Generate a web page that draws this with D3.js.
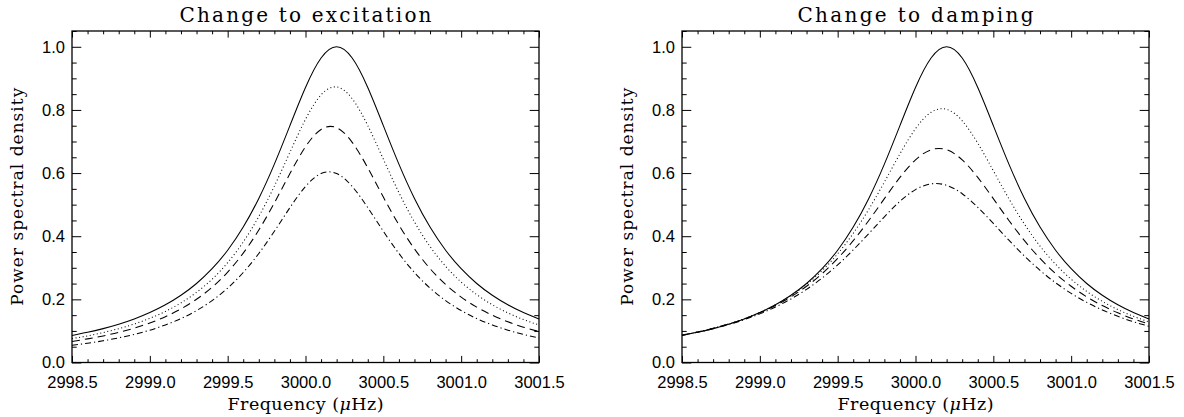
<!DOCTYPE html>
<html><head><meta charset="utf-8">
<script src="https://cdn.jsdelivr.net/npm/d3@7"></script>
<style>body{margin:0;background:#fff}svg{display:block}</style></head>
<body><svg id="c" width="1184" height="417"></svg>
<script>
// ---- data ----
const freqs = [2998.5,2998.6,2998.7,2998.8,2998.9,2999.0,2999.1,2999.2,2999.3,2999.4,2999.5,2999.6,2999.7,2999.8,2999.9,3000.0,3000.1,3000.2,3000.3,3000.4,3000.5,3000.6,3000.7,3000.8,3000.9,3001.0,3001.1,3001.2,3001.3,3001.4,3001.5];

const excSolid   = [0.0856,0.0955,0.1073,0.1212,0.1379,0.1581,0.1827,0.2129,0.2503,0.2970,0.3556,0.4290,0.5196,0.6283,0.7503,0.8711,0.9643,1.0000,0.9643,0.8711,0.7503,0.6283,0.5196,0.4290,0.3556,0.2970,0.2503,0.2129,0.1827,0.1581,0.1379];
const excDotted  = [0.0755,0.0843,0.0948,0.1072,0.1220,0.1400,0.1618,0.1888,0.2222,0.2639,0.3162,0.3817,0.4624,0.5587,0.6659,0.7702,0.8476,0.8727,0.8356,0.7506,0.6441,0.5383,0.4450,0.3674,0.3048,0.2548,0.2149,0.1829,0.1571,0.1361,0.1188];
const excDashed  = [0.0668,0.0748,0.0842,0.0954,0.1089,0.1252,0.1451,0.1697,0.2003,0.2385,0.2865,0.3463,0.4196,0.5056,0.5984,0.6833,0.7382,0.7436,0.6974,0.6167,0.5240,0.4359,0.3599,0.2974,0.2473,0.2072,0.1753,0.1496,0.1288,0.1119,0.0979];
const excDashDot = [0.0546,0.0611,0.0688,0.0780,0.0891,0.1025,0.1190,0.1392,0.1645,0.1961,0.2357,0.2851,0.3454,0.4157,0.4906,0.5576,0.5985,0.5985,0.5576,0.4906,0.4157,0.3454,0.2851,0.2357,0.1961,0.1645,0.1392,0.1190,0.1025,0.0891,0.0780];

const dampSolid   = [0.0856,0.0955,0.1073,0.1212,0.1379,0.1581,0.1827,0.2129,0.2503,0.2970,0.3556,0.4290,0.5196,0.6283,0.7503,0.8711,0.9643,1.0000,0.9643,0.8711,0.7503,0.6283,0.5196,0.4290,0.3556,0.2970,0.2503,0.2129,0.1827,0.1581,0.1379];
const dampDotted  = [0.0865,0.0966,0.1083,0.1222,0.1387,0.1586,0.1826,0.2118,0.2474,0.2910,0.3444,0.4090,0.4853,0.5714,0.6608,0.7404,0.7925,0.8019,0.7655,0.6947,0.6074,0.5188,0.4381,0.3688,0.3111,0.2638,0.2251,0.1936,0.1676,0.1463,0.1285];
const dampDashed  = [0.0867,0.0966,0.1082,0.1219,0.1380,0.1573,0.1803,0.2080,0.2414,0.2815,0.3295,0.3858,0.4499,0.5189,0.5863,0.6418,0.6738,0.6738,0.6418,0.5863,0.5189,0.4499,0.3858,0.3295,0.2815,0.2414,0.2080,0.1803,0.1573,0.1380,0.1219];
const dampDashDot = [0.0862,0.0958,0.1071,0.1202,0.1357,0.1540,0.1756,0.2013,0.2317,0.2675,0.3092,0.3566,0.4084,0.4615,0.5103,0.5476,0.5659,0.5612,0.5345,0.4917,0.4404,0.3873,0.3370,0.2918,0.2525,0.2189,0.1905,0.1665,0.1463,0.1292,0.1147];

const xTickValues = [2998.5,2999.0,2999.5,3000.0,3000.5,3001.0,3001.5];
const xTickLabels = ["2998.5","2999.0","2999.5","3000.0","3000.5","3001.0","3001.5"];
const yTickValues = [0.0,0.2,0.4,0.6,0.8,1.0];
const yTickLabels = ["0.0","0.2","0.4","0.6","0.8","1.0"];
const titles = ["Change to excitation","Change to damping"];
const xTitle = "Frequency";
const xUnit = "\u03BC";
const yTitle = "Power spectral density";

// ---- drawing ----
const svg = d3.select("#c");
svg.append("rect").attr("width",1184).attr("height",417).attr("fill","#fff");

const panels = [
  {title:titles[0], titleLen:252, x0:72, x1:539, series:[excSolid,excDotted,excDashed,excDashDot]},
  {title:titles[1], titleLen:236, x0:682, x1:1149, series:[dampSolid,dampDotted,dampDashed,dampDashDot]}
];
const dashes = [null,"1,2.6","8,5","6,3,1.2,3"];
const yTop = 31, yBot = 362.5;
const xMinor = d3.range(2998.5,3001.5001,0.1).filter(v=>Math.abs(v*2-Math.round(v*2))>1e-6);
const yMinor = d3.range(0,1.0501,0.05).filter(v=>Math.abs(v*5-Math.round(v*5))>1e-6);

const tickFont = "'Liberation Sans', Arial, sans-serif";
const serif = "'DejaVu Serif', serif";

panels.forEach(p=>{
  const x = d3.scaleLinear().domain([2998.5,3001.5]).range([p.x0,p.x1]);
  const y = d3.scaleLinear().domain([0,1.05]).range([yBot,yTop]);
  const g = svg.append("g");

  const line = d3.line().x((d,i)=>x(freqs[i])).y(d=>y(d)).curve(d3.curveNatural);
  p.series.forEach((s,k)=>{
    g.append("path").datum(s).attr("d",line).attr("fill","none")
     .attr("stroke","#000").attr("stroke-width",1.05)
     .attr("stroke-dasharray",dashes[k]);
  });

  function styleAxis(sel){
    sel.select(".domain").remove();
    sel.selectAll("line").attr("stroke","#000").attr("stroke-width",1);
  }
  g.append("g").attr("transform",`translate(0,${yBot})`)
    .call(d3.axisBottom(x).tickValues(xTickValues).tickFormat((d,i)=>xTickLabels[i])
      .tickSizeInner(-6.6).tickSizeOuter(0).tickPadding(14))
    .call(styleAxis)
    .selectAll("text").attr("font-family",tickFont).attr("font-size",16.5).attr("fill","#000");
  g.append("g").attr("transform",`translate(0,${yBot})`)
    .call(d3.axisBottom(x).tickValues(xMinor).tickFormat("").tickSizeInner(-3.3).tickSizeOuter(0))
    .call(styleAxis);
  g.append("g").attr("transform",`translate(0,${yTop})`)
    .call(d3.axisTop(x).tickValues(xTickValues).tickFormat("").tickSizeInner(-6.6).tickSizeOuter(0))
    .call(styleAxis);
  g.append("g").attr("transform",`translate(0,${yTop})`)
    .call(d3.axisTop(x).tickValues(xMinor).tickFormat("").tickSizeInner(-3.3).tickSizeOuter(0))
    .call(styleAxis);
  g.append("g").attr("transform",`translate(${p.x0},0)`)
    .call(d3.axisLeft(y).tickValues(yTickValues).tickFormat((d,i)=>yTickLabels[i])
      .tickSizeInner(-9.3).tickSizeOuter(0).tickPadding(7))
    .call(styleAxis)
    .selectAll("text").attr("font-family",tickFont).attr("font-size",16.5).attr("fill","#000");
  g.append("g").attr("transform",`translate(${p.x0},0)`)
    .call(d3.axisLeft(y).tickValues(yMinor).tickFormat("").tickSizeInner(-4.7).tickSizeOuter(0))
    .call(styleAxis);
  g.append("g").attr("transform",`translate(${p.x1},0)`)
    .call(d3.axisRight(y).tickValues(yTickValues).tickFormat("").tickSizeInner(-9.3).tickSizeOuter(0))
    .call(styleAxis);
  g.append("g").attr("transform",`translate(${p.x1},0)`)
    .call(d3.axisRight(y).tickValues(yMinor).tickFormat("").tickSizeInner(-4.7).tickSizeOuter(0))
    .call(styleAxis);

  g.append("rect").attr("x",p.x0).attr("y",yTop).attr("width",p.x1-p.x0).attr("height",yBot-yTop)
    .attr("fill","none").attr("stroke","#000").attr("stroke-width",1.3);

  const cx = (p.x0+p.x1)/2;
  g.append("text").attr("x",cx).attr("y",22).attr("text-anchor","middle")
    .attr("font-family",serif).attr("font-size",20).attr("fill","#000")
    .attr("textLength",p.titleLen).attr("lengthAdjust","spacing").text(p.title);
  const xt = g.append("text").attr("x",cx).attr("y",410).attr("text-anchor","middle")
    .attr("font-family",serif).attr("font-size",17.5).attr("fill","#000")
    .attr("textLength",156).attr("lengthAdjust","spacing");
  xt.append("tspan").text(xTitle+" (");
  xt.append("tspan").attr("font-style","italic").text(xUnit);
  xt.append("tspan").text("Hz)");
  g.append("text").attr("transform",`translate(${p.x0-49},${(yTop+yBot)/2}) rotate(-90)`)
    .attr("text-anchor","middle").attr("font-family",serif).attr("font-size",17)
    .attr("textLength",218).attr("lengthAdjust","spacing")
    .attr("fill","#000").text(yTitle);
});
</script>
</body></html>
